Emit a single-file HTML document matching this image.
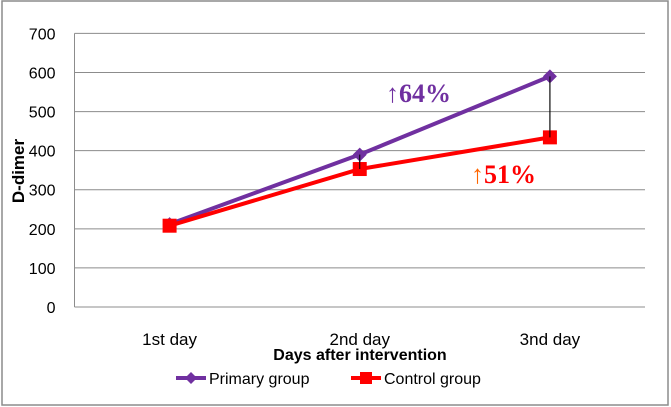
<!DOCTYPE html>
<html><head><meta charset="utf-8"><style>
html,body{margin:0;padding:0;background:#fff;}
svg{display:block;font-family:"Liberation Sans",sans-serif;}
</style></head><body>
<svg id="c" width="671" height="407">
<rect x="2" y="1" width="666" height="404" fill="#fff" stroke="#8c8c8c" stroke-width="1.5"/>
<g id="grid"></g>
<g id="series"></g>
<text x="386" y="102" font-family="Liberation Serif,serif" font-weight="bold" font-size="26" fill="#7030a0"><tspan font-weight="normal">↑</tspan>64%</text>
<text x="471" y="183" font-family="Liberation Serif,serif" font-weight="bold" font-size="26" fill="#ff0000"><tspan font-weight="normal" fill="#ff6600">↑</tspan>51%</text>
<text transform="translate(24,171) rotate(-90)" text-anchor="middle" font-weight="bold" font-size="17">D-dimer</text>
<text x="360" y="360" text-anchor="middle" font-weight="bold" font-size="16">Days after intervention</text>
<g>
<line x1="176" y1="378" x2="206" y2="378" stroke="#7030a0" stroke-width="4"/>
<path d="M191 372 L197 378 L191 384 L185 378 Z" fill="#7030a0"/>
<text x="209" y="384" font-size="16">Primary group</text>
<line x1="351" y1="378" x2="381" y2="378" stroke="#ff0000" stroke-width="4"/>
<rect x="360" y="372" width="12" height="12" fill="#ff0000"/>
<text x="384" y="384" font-size="16">Control group</text>
</g>
</svg>
<script>
const categories=["1st day","2nd day","3nd day"];
const primaryValues=[212,390,590];
const controlValues=[208,353,434];
const yTicks=[0,100,200,300,400,500,600,700];
const ns="http://www.w3.org/2000/svg";
const L=74.5,R=645,T=33.4,B=307;
function xs(i){return L+(R-L)/categories.length*(i+0.5);}
function ys(v){return B-(B-T)*v/700;}
function mk(t,a,p){const e=document.createElementNS(ns,t);for(const k in a)e.setAttribute(k,a[k]);p.appendChild(e);return e;}
const g=document.getElementById('grid'),s=document.getElementById('series');
yTicks.forEach(v=>{
 const ln=mk('line',{x1:L,x2:R,y1:ys(v),y2:ys(v),stroke:'#8c8c8c','stroke-width':1},g);
 
 
 const t=mk('text',{x:L-19,y:ys(v)+6,'text-anchor':'end','font-size':16},g);t.textContent=v;
 
 
});
mk('line',{x1:L,x2:L,y1:T,y2:B,stroke:'#8c8c8c'},g);
categories.forEach((c,i)=>{
 const t=mk('text',{x:xs(i),y:345,'text-anchor':'middle','font-size':17},g);t.textContent=c;
 
 
});
[1,2].forEach(i=>{
 const d=mk('line',{x1:xs(i),x2:xs(i),y1:ys(primaryValues[i]),y2:ys(controlValues[i]),stroke:'#000','stroke-width':1},s);
 
 
});
function pts(a){return a.map((v,i)=>xs(i)+','+ys(v)).join(' ');}
const pl=mk('polyline',{points:pts(primaryValues),fill:'none',stroke:'#7030a0','stroke-width':4},s);


const cl=mk('polyline',{points:pts(controlValues),fill:'none',stroke:'#ff0000','stroke-width':4},s);


primaryValues.forEach((v,i)=>{const x=xs(i),y=ys(v);
 const m=mk('path',{d:`M${x} ${y-7} L${x+7} ${y} L${x} ${y+7} L${x-7} ${y} Z`,fill:'#7030a0'},s);
 
 });
controlValues.forEach((v,i)=>{const x=xs(i),y=ys(v);
 const m=mk('rect',{x:x-7,y:y-7,width:14,height:14,fill:'#ff0000'},s);
 
 });
[1,2].forEach(i=>{
 const d=mk('line',{x1:xs(i),x2:xs(i),y1:ys(primaryValues[i]),y2:ys(controlValues[i]),stroke:'#000','stroke-width':1},s);
 
 
});
</script>
</body></html>
